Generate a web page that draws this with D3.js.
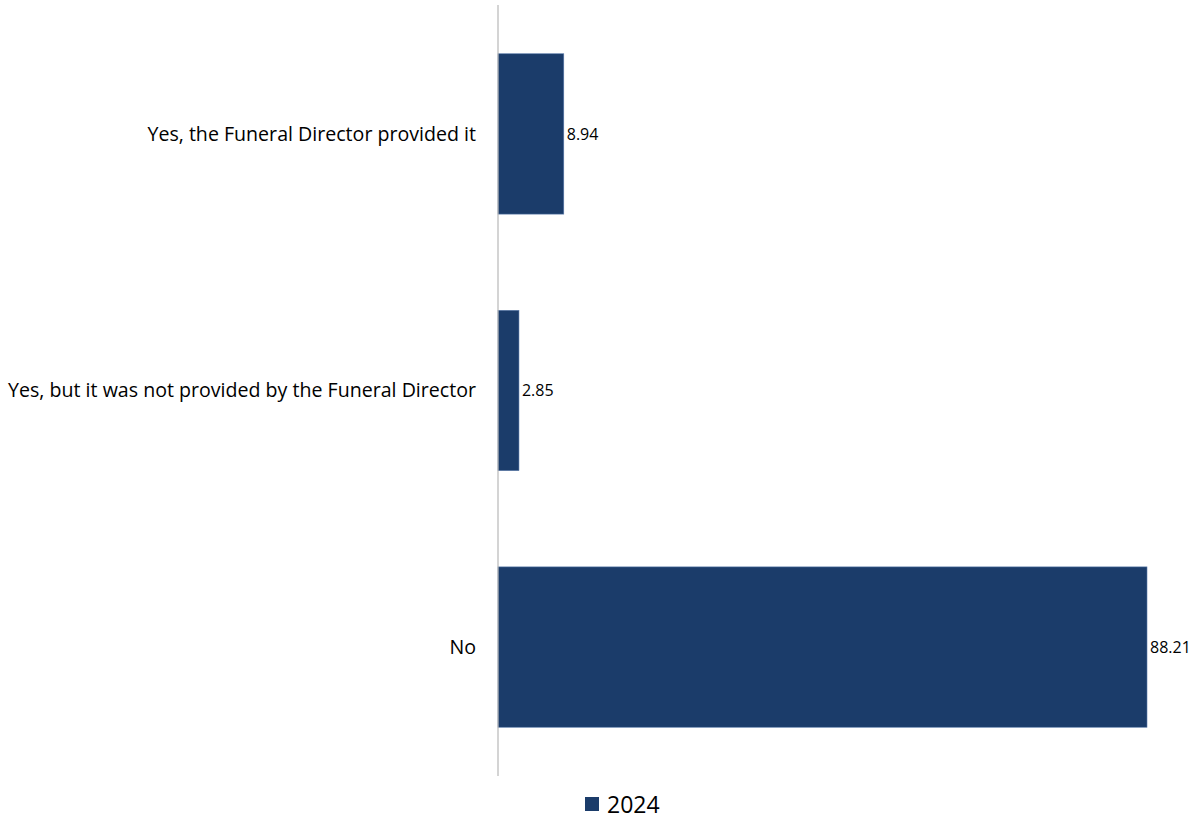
<!DOCTYPE html>
<html>
<head>
<meta charset="utf-8">
<script src="https://cdn.jsdelivr.net/npm/d3@7"></script>
<style>
html,body{margin:0;padding:0;background:#fff;}
svg{display:block;}
text{font-family:"Open Sans",sans-serif;fill:#000;}
</style>
</head>
<body>
<svg id="chart" width="1198" height="821"></svg>
<script>
const categories = ["Yes, the Funeral Director provided it", "Yes, but it was not provided by the Funeral Director", "No"];
const values2024 = [8.94, 2.85, 88.21];
const seriesName = "2024";

const svg = d3.select("#chart");
const x0 = 498, xEnd = 1147, yTop = 5, yBot = 776;
const color = "#1b3c6a";

const x = d3.scaleLinear().domain([0, 88.21]).range([x0, xEnd]);
const y = d3.scaleBand().domain(categories).range([yTop, yBot]).paddingInner(0.375).paddingOuter(0.19);

svg.selectAll("rect.bar").data(categories).enter().append("rect")
  .attr("class","bar")
  .attr("x", x(0))
  .attr("y", d => y(d))
  .attr("width", (d,i) => x(values2024[i]) - x(0))
  .attr("height", y.bandwidth())
  .attr("fill", color)
  .attr("stroke", "#5b7bab").attr("stroke-width", 0.6);

svg.append("line").attr("x1", x0).attr("x2", x0).attr("y1", yTop).attr("y2", yBot)
  .attr("stroke", "#b8b8b8").attr("stroke-width", 1.2);

svg.selectAll("text.cat").data(categories).enter().append("text")
  .attr("class","cat")
  .attr("x", 476)
  .attr("y", d => y(d) + y.bandwidth()/2)
  .attr("dy", "0.35em")
  .attr("text-anchor","end")
  .style("font-size","19.6px")
  .text(d => d);

svg.selectAll("text.val").data(categories).enter().append("text")
  .attr("class","val")
  .attr("x", (d,i) => x(values2024[i]) + 3)
  .attr("y", d => y(d) + y.bandwidth()/2)
  .attr("dy", "0.35em")
  .style("font-size","16px")
  .text((d,i) => values2024[i].toFixed(2));

const lg = svg.append("g");
lg.append("rect").attr("x",585).attr("y",797).attr("width",14).attr("height",14).attr("fill",color);
lg.append("text").attr("x",607).attr("y",813).style("font-size","23px").text(seriesName);
</script>
</body>
</html>
